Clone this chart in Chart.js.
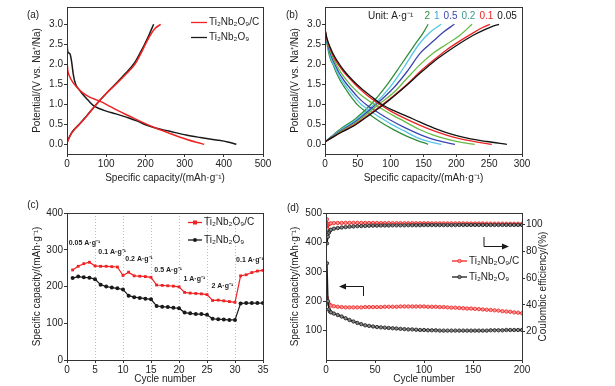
<!DOCTYPE html>
<html>
<head>
<meta charset="utf-8">
<script src="https://cdn.jsdelivr.net/npm/chart.js@4.4.0/dist/chart.umd.min.js"></script>
<style>
  body { margin: 0; background: #fff; width: 615px; height: 386px; overflow: hidden; position: relative; }
  canvas { position: absolute; }
</style>
</head>
<body>
<canvas id="chartA" width="280" height="190" style="left:0;top:0"></canvas>
<canvas id="chartB" width="335" height="190" style="left:280px;top:0"></canvas>
<canvas id="chartC" width="280" height="196" style="left:0;top:190px"></canvas>
<canvas id="chartD" width="335" height="196" style="left:280px;top:190px"></canvas>
<script>
// ---- (a) first charge/discharge, 0.05 A/g
const aCompDisCap = [0, 2, 7, 15, 24, 35, 49, 62, 75, 88, 100, 130, 160, 190, 228, 260, 304, 330, 350];
const aCompDisV   = [2.07, 1.85, 1.69, 1.55, 1.44, 1.33, 1.23, 1.16, 1.11, 1.06, 1.0, 0.84, 0.7, 0.56, 0.4, 0.28, 0.125, 0.05, 0];
const aCompChgCap = [0, 5, 12, 20, 32, 50, 75, 100, 130, 150, 173, 190, 200, 212, 225, 239];
const aCompChgV   = [0.03, 0.15, 0.28, 0.38, 0.5, 0.7, 1.0, 1.27, 1.55, 1.75, 2.0, 2.3, 2.5, 2.72, 2.9, 3.0];
const aBareDisCap = [0, 1, 3, 8, 12, 16, 22, 30, 40, 54, 66, 80, 100, 125, 151, 180, 202, 228, 260, 304, 340, 381, 410, 432];
const aBareDisV   = [2.7, 2.4, 2.3, 2.25, 2.05, 1.75, 1.5, 1.38, 1.25, 1.1, 0.98, 0.9, 0.83, 0.76, 0.68, 0.58, 0.48, 0.4, 0.33, 0.23, 0.17, 0.11, 0.06, 0];
const aBareChgCap = [0, 5, 12, 20, 32, 50, 75, 100, 130, 150, 173, 190, 198, 210, 221];
const aBareChgV   = [0.05, 0.16, 0.29, 0.39, 0.51, 0.71, 1.0, 1.27, 1.57, 1.78, 2.05, 2.35, 2.5, 2.75, 3.0];

// ---- (b) rate curves, A/g
const rateNames = ['2', '1', '0.5', '0.2', '0.1', '0.05'];
const b2DisCap   = [0, 3, 6, 9, 12, 17, 24, 32, 40, 50, 65, 85, 105, 125, 140, 157];
const b2DisV     = [2.9, 2.52, 2.26, 2.1, 2.0, 1.8, 1.57, 1.37, 1.18, 0.98, 0.78, 0.55, 0.36, 0.2, 0.1, 0];
const b2ChgCap   = [0, 10, 25, 45, 70, 95, 115, 135, 150, 157];
const b2ChgV     = [0.06, 0.2, 0.4, 0.62, 1.0, 1.5, 1.97, 2.45, 2.8, 3.0];
const b1DisCap   = [0, 3, 7, 10, 13, 19, 27, 36, 45, 55, 70, 85, 100, 120, 144, 160, 177];
const b1DisV     = [2.85, 2.54, 2.27, 2.1, 2.0, 1.79, 1.56, 1.36, 1.18, 1.0, 0.82, 0.66, 0.51, 0.34, 0.14, 0.06, 0];
const b1ChgCap   = [0, 10, 25, 45, 75, 100, 120, 144, 160, 177];
const b1ChgV     = [0.06, 0.19, 0.37, 0.58, 1.0, 1.45, 1.92, 2.52, 2.8, 3.0];
const b05DisCap  = [0, 3, 8, 12, 15, 21, 30, 40, 50, 62, 80, 100, 120, 144, 160, 180, 198];
const b05DisV    = [2.85, 2.57, 2.28, 2.1, 2.0, 1.8, 1.57, 1.37, 1.18, 1.0, 0.8, 0.6, 0.43, 0.25, 0.15, 0.06, 0];
const b05ChgCap  = [0, 10, 25, 45, 78, 105, 125, 145, 165, 180, 197];
const b05ChgV    = [0.06, 0.18, 0.35, 0.55, 1.0, 1.42, 1.82, 2.28, 2.58, 2.8, 3.0];
const b02DisCap  = [0, 3, 8, 13, 17, 24, 34, 45, 58, 75, 90, 105, 120, 144, 165, 190, 210, 228];
const b02DisV    = [2.85, 2.6, 2.34, 2.13, 2.0, 1.8, 1.58, 1.38, 1.19, 1.0, 0.85, 0.71, 0.58, 0.37, 0.23, 0.11, 0.04, 0];
const b02ChgCap  = [0, 10, 25, 45, 82, 105, 125, 144, 165, 185, 205, 224];
const b02ChgV    = [0.06, 0.17, 0.33, 0.52, 1.0, 1.3, 1.65, 1.98, 2.28, 2.5, 2.72, 3.0];
const b01DisCap  = [0, 3, 8, 15, 20, 28, 40, 52, 66, 83, 100, 120, 144, 165, 185, 205, 230, 254];
const b01DisV    = [2.86, 2.62, 2.38, 2.13, 2.0, 1.82, 1.6, 1.4, 1.2, 1.0, 0.83, 0.66, 0.48, 0.34, 0.23, 0.14, 0.06, 0];
const b01ChgCap  = [0, 10, 25, 45, 65, 88, 105, 125, 145, 165, 185, 205, 225, 240, 251];
const b01ChgV    = [0.06, 0.16, 0.31, 0.49, 0.72, 1.0, 1.22, 1.5, 1.82, 2.1, 2.36, 2.58, 2.78, 2.92, 3.0];
const b005DisCap = [0, 3, 8, 15, 22, 30, 42, 55, 70, 86, 105, 125, 144, 170, 195, 220, 246, 277];
const b005DisV   = [2.88, 2.65, 2.42, 2.18, 2.0, 1.82, 1.6, 1.4, 1.2, 1.0, 0.84, 0.7, 0.56, 0.38, 0.24, 0.14, 0.07, 0];
const b005ChgCap = [0, 10, 25, 45, 65, 90, 105, 125, 145, 165, 185, 205, 225, 245, 257, 265];
const b005ChgV   = [0.06, 0.16, 0.3, 0.47, 0.7, 1.0, 1.2, 1.48, 1.78, 2.06, 2.3, 2.52, 2.72, 2.88, 2.96, 3.0];

// ---- (c) rate capability
const rateCycles  = [1,2,3,4,5,6,7,8,9,10,11,12,13,14,15,16,17,18,19,20,21,22,23,24,25,26,27,28,29,30,31,32,33,34,35];
const rateCapComp = [245,255,262,266,256,255,255,254,253,230,239,229,228,227,225,204,203,202,201,199,184,182,181,180,178,162,163,161,159,157,229,232,238,242,244];
const rateCapBare = [223,227,225,224,220,205,200,197,195,192,175,171,169,167,165,147,145,144,142,141,129,127,125,125,123,112,111,110,109,109,154,155,155,155,155];
const rateSteps   = ['0.05 A·g⁻¹', '0.1 A·g⁻¹', '0.2 A·g⁻¹', '0.5 A·g⁻¹', '1 A·g⁻¹', '2 A·g⁻¹', '0.1 A·g⁻¹'];

// ---- (d) long cycling
const longCycles  = [1,2,3,4,5,8,12,16,20,24,28,32,36,40,44,48,52,56,60,64,68,72,76,80,84,88,92,96,100,104,108,112,116,120,124,128,132,136,140,144,148,152,156,160,164,168,172,176,180,184,188,192,196,200];
const longCapComp = [212,196,190,187,185,183,181,180,179,179,179,179,179,180,180,180,180,180,181,181,181,181,182,182,182,182,182,182,182,181,181,181,180,180,179,178,178,177,176,175,175,174,173,172,171,170,169,168,166,165,164,162,161,159];
const longCapBare = [329,200,172,165,162,158,153,148,142,136,131,126,122,118,116,114,112,111,110,109,108,107,106,105,104,104,103,102,102,101,101,101,100,100,100,100,100,100,100,100,100,100,100,100,100,101,101,101,101,102,102,102,102,102];
const longCeComp  = [104,96.5,100.5,100.8,101,101.2,101.3,101.3,101.4,101.4,101.4,101.4,101.3,101.3,101.3,101.3,101.3,101.2,101.2,101.2,101.2,101.2,101.2,101.1,101.1,101.1,101.1,101.1,101.1,101.1,101,101,101,101,101,101,101,101,101,100.9,100.9,100.9,100.9,100.9,100.8,100.8,100.8,100.8,100.8,100.7,100.7,100.7,100.7,100.7];
const longCeBare  = [86,91,94,95.5,96.2,97,97.5,97.9,98.2,98.5,98.7,98.9,99,99.1,99.2,99.3,99.3,99.4,99.4,99.4,99.5,99.5,99.5,99.5,99.6,99.6,99.6,99.6,99.7,99.7,99.7,99.7,99.7,99.7,99.7,99.7,99.7,99.8,99.8,99.8,99.8,99.8,99.8,99.8,99.8,99.8,99.8,99.8,99.8,99.8,99.8,99.8,99.8,99.8];

// tick values
const potentialTicks = [0, 0.5, 1, 1.5, 2, 2.5, 3];
const capTicksA = [0, 100, 200, 300, 400, 500];
const capTicksB = [0, 50, 100, 150, 200, 250, 300];
const rateCapTicks = [0, 100, 200, 300, 400];
const rateCycleTicks = [0, 5, 10, 15, 20, 25, 30, 35];
const longCycleTicks = [0, 50, 100, 150, 200];
const longCapTicks = [100, 200, 300, 400, 500];
const ceTicks = [20, 40, 60, 80, 100];

const FONT = '"Liberation Sans", Arial, sans-serif';
Chart.defaults.font.family = FONT;
Chart.defaults.font.size = 10;
Chart.defaults.color = '#222';
Chart.defaults.animation = false;

const INK = '#333';
const RED = '#ee2222';
const BLACK = '#1a1a1a';
const rateColors = ['#2f8f3a', '#56c6e6', '#3b45b0', '#66bb44', '#ee2222', '#111111'];
const rateTextColors = ['#2f8f3a', '#3aa8d8', '#3b45b0', '#3a9a8c', '#ee2222', '#111111'];

const pts = (xs, ys) => xs.map((x, i) => ({ x, y: ys[i] }));

function curve(xs, ys, color, width) {
  return {
    data: pts(xs, ys), showLine: true, borderColor: color, borderWidth: width || 1.3,
    pointRadius: 0, cubicInterpolationMode: 'monotone'
  };
}

function axis(position, min, max, values, fmt, fit, title, titlePad) {
  const a = {
    type: 'linear', position, min, max,
    border: { display: false },
    grid: { drawOnChartArea: false, tickLength: 3, tickColor: INK },
    ticks: { padding: 1, maxRotation: 0, autoSkip: false, callback: fmt },
    afterBuildTicks: s => { s.ticks = values.map(v => ({ value: v })); },
    afterFit: fit
  };
  if (title) a.title = { display: true, text: title, padding: titlePad };
  return a;
}

const framePlugin = {
  id: 'frame',
  afterDraw(chart) {
    const { ctx, chartArea: a } = chart;
    ctx.save();
    ctx.strokeStyle = INK;
    ctx.lineWidth = 1;
    ctx.strokeRect(Math.round(a.left) + 0.5, Math.round(a.top) + 0.5,
      Math.round(a.right - a.left), Math.round(a.bottom - a.top));
    ctx.restore();
  }
};

function legendLine(ctx, x1, x2, y, color, text, marker) {
  ctx.strokeStyle = color;
  ctx.lineWidth = 1.3;
  ctx.beginPath(); ctx.moveTo(x1, y); ctx.lineTo(x2, y); ctx.stroke();
  if (marker) marker(ctx, (x1 + x2) / 2, y);
  ctx.fillStyle = '#222';
  ctx.textAlign = 'left';
  ctx.textBaseline = 'middle';
  ctx.fillText(text, x2 + 2, y);
}

function panelLabel(ctx, text, x, y) {
  ctx.font = '10px ' + FONT;
  ctx.fillStyle = '#222';
  ctx.textAlign = 'center';
  ctx.textBaseline = 'middle';
  ctx.fillText(text, x, y);
}

const baseOpts = pad => ({
  responsive: false,
  layout: { padding: pad },
  plugins: { legend: { display: false }, tooltip: { enabled: false } },
  events: []
});

const fmt1 = v => v.toFixed(1);
const fmt0 = v => v;

// (a)
new Chart(document.getElementById('chartA'), {
  type: 'scatter',
  data: { datasets: [
    curve(aCompDisCap, aCompDisV, RED, 1.5), curve(aCompChgCap, aCompChgV, RED, 1.5),
    curve(aBareDisCap, aBareDisV, BLACK, 1.5), curve(aBareChgCap, aBareChgV, BLACK, 1.5)
  ] },
  options: Object.assign(baseOpts({ left: 27, right: 17, top: 7, bottom: 0 }), {
    scales: {
      x: axis('bottom', 0, 500, capTicksA, fmt0, s => { s.height = 36; },
        'Specific capacity/(mAh·g⁻¹)', { top: 0, bottom: 6 }),
      y: axis('left', -0.2425, 3.4325, potentialTicks, fmt1, s => { s.width = 40; },
        'Potential/(V vs. Na⁺/Na)', { top: 4, bottom: 0 })
    }
  }),
  plugins: [framePlugin, {
    id: 'notesA',
    afterDraw(chart) {
      const ctx = chart.ctx;
      ctx.save();
      ctx.font = '10px ' + FONT;
      legendLine(ctx, 191, 207, 22.5, RED, 'Ti₂Nb₂O₉/C');
      legendLine(ctx, 191, 207, 37.5, BLACK, 'Ti₂Nb₂O₉');
      panelLabel(ctx, '(a)', 33, 15);
      ctx.restore();
    }
  }]
});

// (b)
const bCurves = [
  [b2DisCap, b2DisV, b2ChgCap, b2ChgV],
  [b1DisCap, b1DisV, b1ChgCap, b1ChgV],
  [b05DisCap, b05DisV, b05ChgCap, b05ChgV],
  [b02DisCap, b02DisV, b02ChgCap, b02ChgV],
  [b01DisCap, b01DisV, b01ChgCap, b01ChgV],
  [b005DisCap, b005DisV, b005ChgCap, b005ChgV]
];
const bSets = [];
bCurves.forEach((c, i) => {
  bSets.push(curve(c[0], c[1], rateColors[i]));
  bSets.push(curve(c[2], c[3], rateColors[i]));
});
new Chart(document.getElementById('chartB'), {
  type: 'scatter',
  data: { datasets: bSets.reverse() },
  options: Object.assign(baseOpts({ left: 5, right: 93, top: 7, bottom: 0 }), {
    scales: {
      x: axis('bottom', 0, 300, capTicksB, fmt0, s => { s.height = 36; },
        'Specific capacity/(mAh·g⁻¹)', { top: 0, bottom: 6 }),
      y: axis('left', -0.2425, 3.4325, potentialTicks, fmt1, s => { s.width = 40; },
        'Potential/(V vs. Na⁺/Na)', { top: 4, bottom: 0 })
    }
  }),
  plugins: [framePlugin, {
    id: 'notesB',
    afterDraw(chart) {
      const ctx = chart.ctx;
      ctx.save();
      ctx.font = '10px ' + FONT;
      ctx.textAlign = 'left';
      ctx.textBaseline = 'middle';
      ctx.fillStyle = '#222';
      ctx.fillText('Unit: A·g⁻¹', 88, 16);
      let x = 144.5;
      rateNames.forEach((n, i) => {
        ctx.fillStyle = rateTextColors[i];
        ctx.fillText(n, x, 16.5);
        x += ctx.measureText(n).width + 4;
      });
      panelLabel(ctx, '(b)', 12, 15);
      ctx.restore();
    }
  }]
});

// (c)
const squareMark = (ctx, x, y) => { ctx.fillStyle = RED; ctx.fillRect(x - 2, y - 2, 4, 4); };
const dotMark = (ctx, x, y) => { ctx.fillStyle = BLACK; ctx.beginPath(); ctx.arc(x, y, 2, 0, Math.PI * 2); ctx.fill(); };

const xC = axis('bottom', 0, 35, rateCycleTicks, fmt0, s => { s.height = 26; },
  'Cycle number', { top: 0, bottom: 1 });
xC.grid = {
  drawOnChartArea: true, tickLength: 3, tickColor: INK, lineWidth: 1,
  color: c => (c.tick && c.tick.value > 0 && c.tick.value < 35) ? 'rgba(215,150,150,0.75)' : 'rgba(0,0,0,0)'
};
xC.border = { display: false, dash: [1, 2] };

new Chart(document.getElementById('chartC'), {
  type: 'line',
  data: { datasets: [
    { data: pts(rateCycles, rateCapComp), borderColor: RED, backgroundColor: RED, borderWidth: 1.2,
      pointStyle: 'rect', pointRadius: 2, pointBorderWidth: 0 },
    { data: pts(rateCycles, rateCapBare), borderColor: BLACK, backgroundColor: BLACK, borderWidth: 1.2,
      pointStyle: 'circle', pointRadius: 2, pointBorderWidth: 0 }
  ] },
  options: Object.assign(baseOpts({ left: 27, right: 17, top: 23, bottom: 0 }), {
    scales: {
      x: xC,
      y: axis('left', 0, 400, rateCapTicks, fmt0, s => { s.width = 40; },
        'Specific capacity/(mAh·g⁻¹)', { top: 4, bottom: 0 })
    }
  }),
  plugins: [framePlugin, {
    id: 'notesC',
    afterDraw(chart) {
      const { ctx, scales: { x, y } } = chart;
      ctx.save();
      const spots = [[0.3, 318], [5.6, 293], [10.4, 275], [15.6, 245], [20.8, 220], [25.8, 202], [30.2, 273]];
      ctx.font = 'bold 7px ' + FONT;
      ctx.fillStyle = '#222';
      ctx.textAlign = 'left';
      ctx.textBaseline = 'middle';
      rateSteps.forEach((t, i) => ctx.fillText(t, x.getPixelForValue(spots[i][0]), y.getPixelForValue(spots[i][1])));
      ctx.font = '10px ' + FONT;
      legendLine(ctx, 188, 202, 32.5, RED, 'Ti₂Nb₂O₉/C', squareMark);
      legendLine(ctx, 188, 202, 50, BLACK, 'Ti₂Nb₂O₉', dotMark);
      panelLabel(ctx, '(c)', 33, 15);
      ctx.restore();
    }
  }]
});

// (d)
const hollowRed = (ctx, x, y) => { ctx.fillStyle = '#ff9a9a'; ctx.strokeStyle = RED; ctx.lineWidth = 0.8; ctx.beginPath(); ctx.arc(x, y, 1.7, 0, Math.PI * 2); ctx.fill(); ctx.stroke(); };
const hollowBlack = (ctx, x, y) => { ctx.fillStyle = '#888'; ctx.strokeStyle = BLACK; ctx.lineWidth = 0.8; ctx.beginPath(); ctx.arc(x, y, 1.7, 0, Math.PI * 2); ctx.fill(); ctx.stroke(); };

function longSet(ys, axisId, color, fill) {
  return {
    data: pts(longCycles, ys), yAxisID: axisId, borderColor: color, borderWidth: 1.4,
    pointStyle: 'circle', pointRadius: 1.7, pointBackgroundColor: fill, pointBorderColor: color, pointBorderWidth: 0.8
  };
}

new Chart(document.getElementById('chartD'), {
  type: 'line',
  data: { datasets: [
    longSet(longCapBare, 'y', BLACK, '#888'),
    longSet(longCapComp, 'y', RED, '#ff9a9a'),
    longSet(longCeBare, 'y2', BLACK, '#888'),
    longSet(longCeComp, 'y2', RED, '#ff9a9a')
  ] },
  options: Object.assign(baseOpts({ left: 5, right: 62, top: 23, bottom: 0 }), {
    scales: {
      x: axis('bottom', 0, 200, longCycleTicks, fmt0, s => { s.height = 26; },
        'Cycle number', { top: 0, bottom: 1 }),
      y: axis('left', 0, 500, longCapTicks, fmt0, s => { s.width = 41; },
        'Specific capacity/(mAh·g⁻¹)', { top: 4, bottom: 0 }),
      y2: axis('right', -1.25, 108.75, ceTicks, fmt0, s => { s.width = 31; })
    }
  }),
  plugins: [framePlugin, {
    id: 'notesD',
    afterDraw(chart) {
      const { ctx, chartArea: a } = chart;
      ctx.save();
      ctx.font = '10px ' + FONT;
      legendLine(ctx, 172, 187, 71, RED, 'Ti₂Nb₂O₉/C', hollowRed);
      legendLine(ctx, 172, 187, 87, BLACK, 'Ti₂Nb₂O₉', hollowBlack);
      // direction arrows
      ctx.strokeStyle = BLACK; ctx.fillStyle = BLACK; ctx.lineWidth = 1;
      ctx.beginPath(); ctx.moveTo(204, 47); ctx.lineTo(204, 56.5); ctx.lineTo(224, 56.5); ctx.stroke();
      ctx.beginPath(); ctx.moveTo(229, 56.5); ctx.lineTo(222, 53.5); ctx.lineTo(222, 59.5); ctx.closePath(); ctx.fill();
      ctx.beginPath(); ctx.moveTo(83.5, 106); ctx.lineTo(83.5, 96.5); ctx.lineTo(64, 96.5); ctx.stroke();
      ctx.beginPath(); ctx.moveTo(59, 96.5); ctx.lineTo(66, 93.5); ctx.lineTo(66, 99.5); ctx.closePath(); ctx.fill();
      // right axis title, reading upwards
      ctx.translate(263.5, (a.top + a.bottom) / 2);
      ctx.rotate(-Math.PI / 2);
      ctx.fillStyle = '#222';
      ctx.textAlign = 'center';
      ctx.textBaseline = 'middle';
      ctx.fillText('Coulombic efficiency/(%)', 0, 0);
      ctx.restore();
      ctx.save();
      panelLabel(ctx, '(d)', 13, 18);
      ctx.restore();
    }
  }]
});
</script>
</body>
</html>
